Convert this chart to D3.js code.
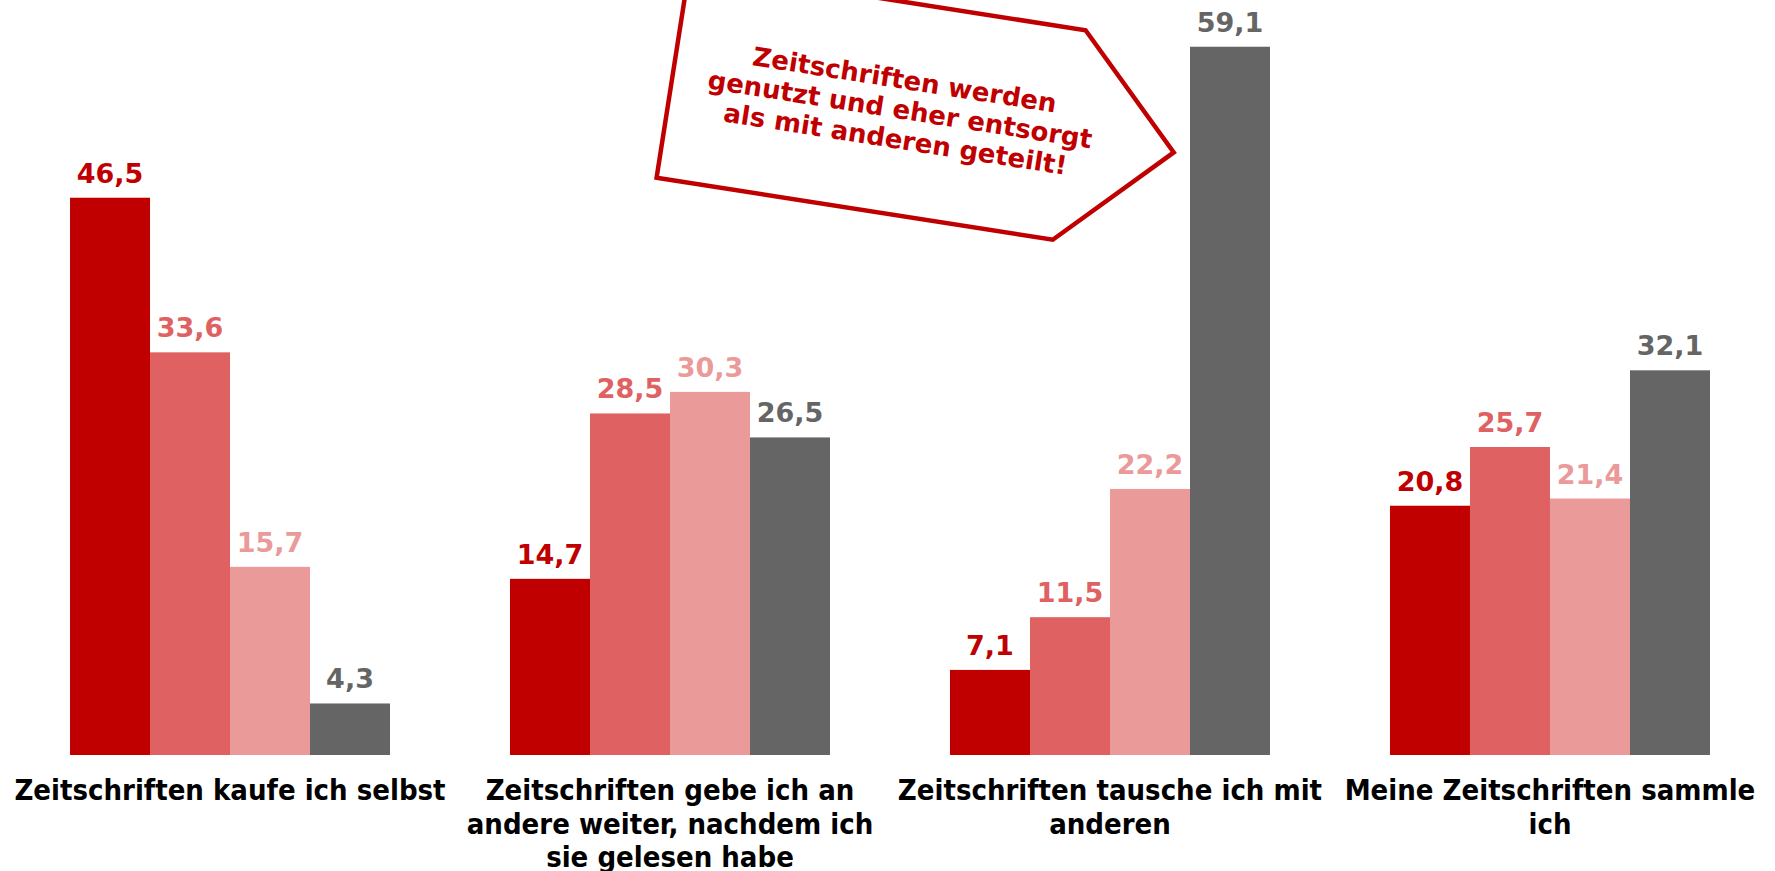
<!DOCTYPE html>
<html>
<head>
<meta charset="utf-8">
<script src="https://cdn.jsdelivr.net/npm/d3@7"></script>
<style>
  html, body { margin: 0; padding: 0; background: #ffffff; }
  svg { display: block; }
</style>
</head>
<body>
<svg id="chart" width="1775" height="871"></svg>
<script>
// Category labels, already broken into lines as they are printed under each group
const categories = [
  ["Zeitschriften kaufe ich selbst"],
  ["Zeitschriften gebe ich an", "andere weiter, nachdem ich", "sie gelesen habe"],
  ["Zeitschriften tausche ich mit", "anderen"],
  ["Meine Zeitschriften sammle", "ich"]
];

// Four answer groups (series), one value per category, in percent
const seriesNames = ["s1", "s2", "s3", "s4"];
const series1 = [46.5, 14.7, 7.1, 20.8];
const series2 = [33.6, 28.5, 11.5, 25.7];
const series3 = [15.7, 30.3, 22.2, 21.4];
const series4 = [4.3, 26.5, 59.1, 32.1];
const seriesValues = [series1, series2, series3, series4];
const seriesColors = ["#C00000", "#E06161", "#EB9A9A", "#656565"];

// Callout text
const calloutLines = ["Zeitschriften werden", "genutzt und eher entsorgt", "als mit anderen geteilt!"];

const svg = d3.select("#chart");
const baseline = 755;

const x0 = d3.scaleBand()
  .domain(d3.range(categories.length))
  .range([10, 1770])
  .paddingInner(0.2727)
  .paddingOuter(0.1364);

const x1 = d3.scaleBand()
  .domain(seriesNames)
  .range([0, x0.bandwidth()])
  .padding(0);

const y = d3.scaleLinear()
  .domain([0, 63])
  .range([baseline, 0]);

const fmt = v => d3.format(".1f")(v).replace(".", ",");

// Flatten into one record per bar
const bars = [];
categories.forEach((c, ci) => {
  seriesNames.forEach((s, si) => {
    bars.push({ ci, si, s, value: seriesValues[si][ci] });
  });
});

const g = svg.append("g");

g.selectAll("rect.bar")
  .data(bars)
  .join("rect")
  .attr("class", "bar")
  .attr("x", d => x0(d.ci) + x1(d.s))
  .attr("y", d => y(d.value))
  .attr("width", x1.bandwidth())
  .attr("height", d => y(0) - y(d.value))
  .attr("fill", d => seriesColors[d.si]);

// Value labels above each bar
g.selectAll("text.val")
  .data(bars)
  .join("text")
  .attr("class", "val")
  .attr("x", d => x0(d.ci) + x1(d.s) + x1.bandwidth() / 2)
  .attr("y", d => y(d.value) - 15)
  .attr("text-anchor", "middle")
  .attr("font-family", "'DejaVu Sans', Verdana, sans-serif")
  .attr("font-weight", "bold")
  .attr("font-size", 27)
  .attr("fill", d => seriesColors[d.si])
  .text(d => fmt(d.value));

// Category labels below the groups
const catG = g.selectAll("text.cat")
  .data(categories)
  .join("text")
  .attr("class", "cat")
  .attr("text-anchor", "middle")
  .attr("font-family", "'DejaVu Sans Condensed', 'DejaVu Sans', sans-serif")
  .style("font-stretch", "condensed")
  .attr("font-weight", "bold")
  .attr("font-size", 29)
  .attr("fill", "#000000");

catG.selectAll("tspan")
  .data((d, i) => d.map(line => ({ line, i })))
  .join("tspan")
  .attr("x", d => x0(d.i) + x0.bandwidth() / 2)
  .attr("y", (d, j) => 800 + j * 33.5)
  .text(d => d.line);

// Callout: arrow-shaped pentagon, tilted, pointing at the tallest bar
const angle = 8.9;
const call = svg.append("g")
  .attr("transform", `translate(656.6,177.7) rotate(${angle})`);

const shape = [[0, 0], [401, 0], [507, -105], [401, -212], [0, -212]];
call.append("path")
  .attr("d", d3.line()(shape) + "Z")
  .attr("fill", "#ffffff")
  .attr("stroke", "#C00000")
  .attr("stroke-width", 4.5)
  .attr("stroke-linejoin", "miter");

call.append("text")
  .attr("text-anchor", "middle")
  .attr("font-family", "'DejaVu Sans', Verdana, sans-serif")
  .attr("font-weight", "bold")
  .attr("font-size", 26)
  .attr("fill", "#C00000")
  .selectAll("tspan")
  .data(calloutLines)
  .join("tspan")
  .attr("x", 230)
  .attr("y", (d, i) => -126 + i * 30)
  .text(d => d);
</script>
</body>
</html>
